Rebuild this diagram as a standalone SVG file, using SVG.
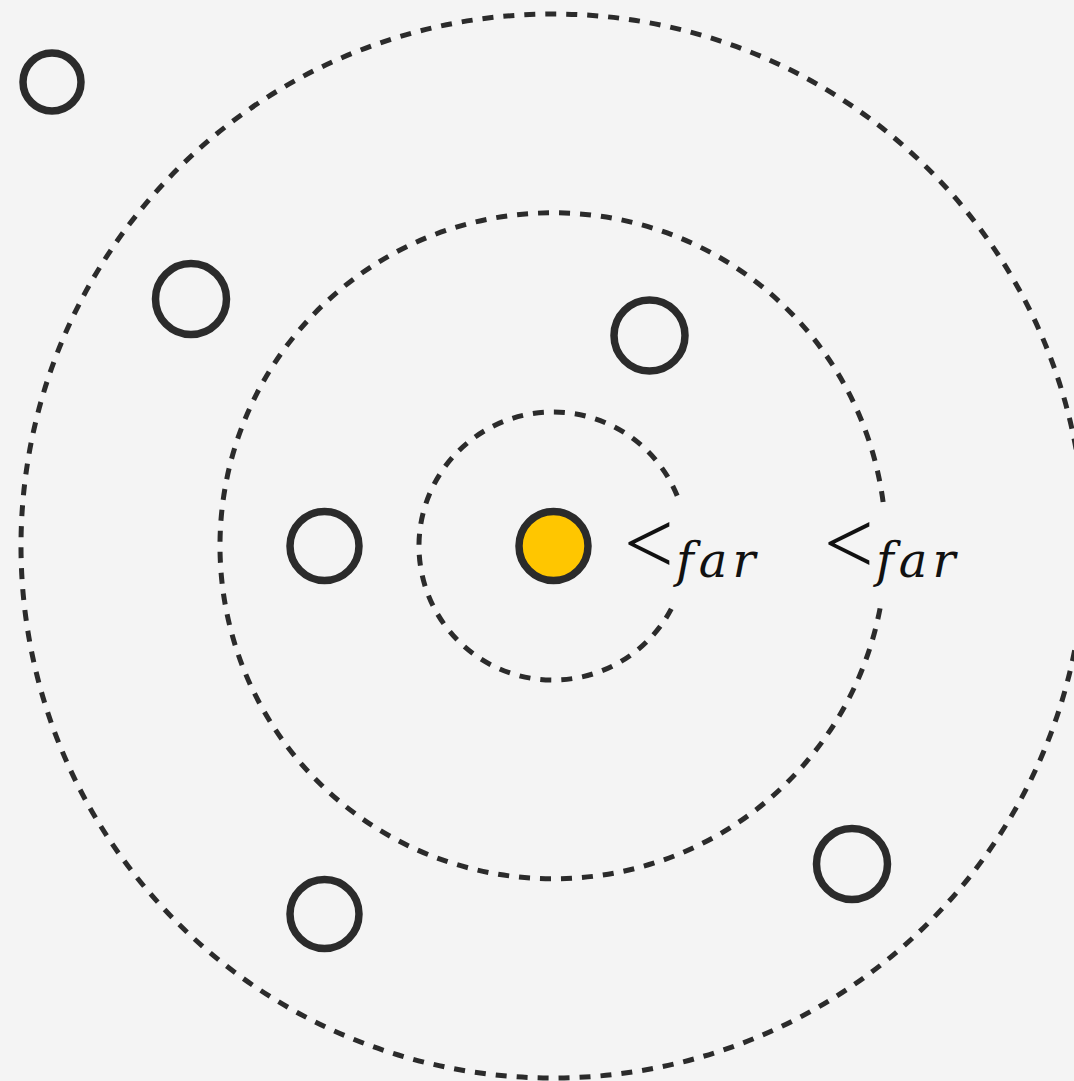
<svg xmlns="http://www.w3.org/2000/svg" width="1074" height="1081" viewBox="0 0 1074 1081">
<style>
.ring{fill:none;stroke:#2b2b2b;stroke-width:5;stroke-dasharray:11 10}
.node{fill:none;stroke:#2b2b2b;stroke-width:7.5}
.node.focus{fill:#ffc600}
.lt{font-family:"Liberation Serif","DejaVu Serif",serif;font-size:88px;fill:#111}
.sub{font-family:"DejaVu Serif",serif;font-style:italic;font-size:48px;letter-spacing:5px;fill:#111}
</style>
<rect width="1074" height="1081" fill="#f4f4f4"/>
<g id="connectors">
<circle class="ring" cx="553" cy="546" r="532"/>
<path class="ring" d="M883.1,502 A333,333 0 1 0 880.9,603.8"/>
<path class="ring" d="M677.2,495.8 A134,134 0 1 0 671.3,608.9"/>
</g>
<g id="n1"><circle class="node" cx="52" cy="82" r="29"/></g>
<g id="n2"><circle class="node" cx="191" cy="299" r="35.5"/></g>
<g id="n3"><circle class="node" cx="649.5" cy="335.5" r="35.5"/></g>
<g id="n4"><circle class="node" cx="324.5" cy="546" r="34.5"/></g>
<g id="center"><circle class="node focus" cx="553.5" cy="546" r="34.5"/></g>
<g id="n6"><circle class="node" cx="852" cy="864" r="35.5"/></g>
<g id="n7"><circle class="node" cx="324.5" cy="914" r="34.5"/></g>
<g id="label1"><text class="lt" x="624" y="573">&lt;</text><text class="sub" x="676" y="577">far</text></g>
<g id="label2"><text class="lt" x="824" y="573">&lt;</text><text class="sub" x="876" y="577">far</text></g>
</svg>
